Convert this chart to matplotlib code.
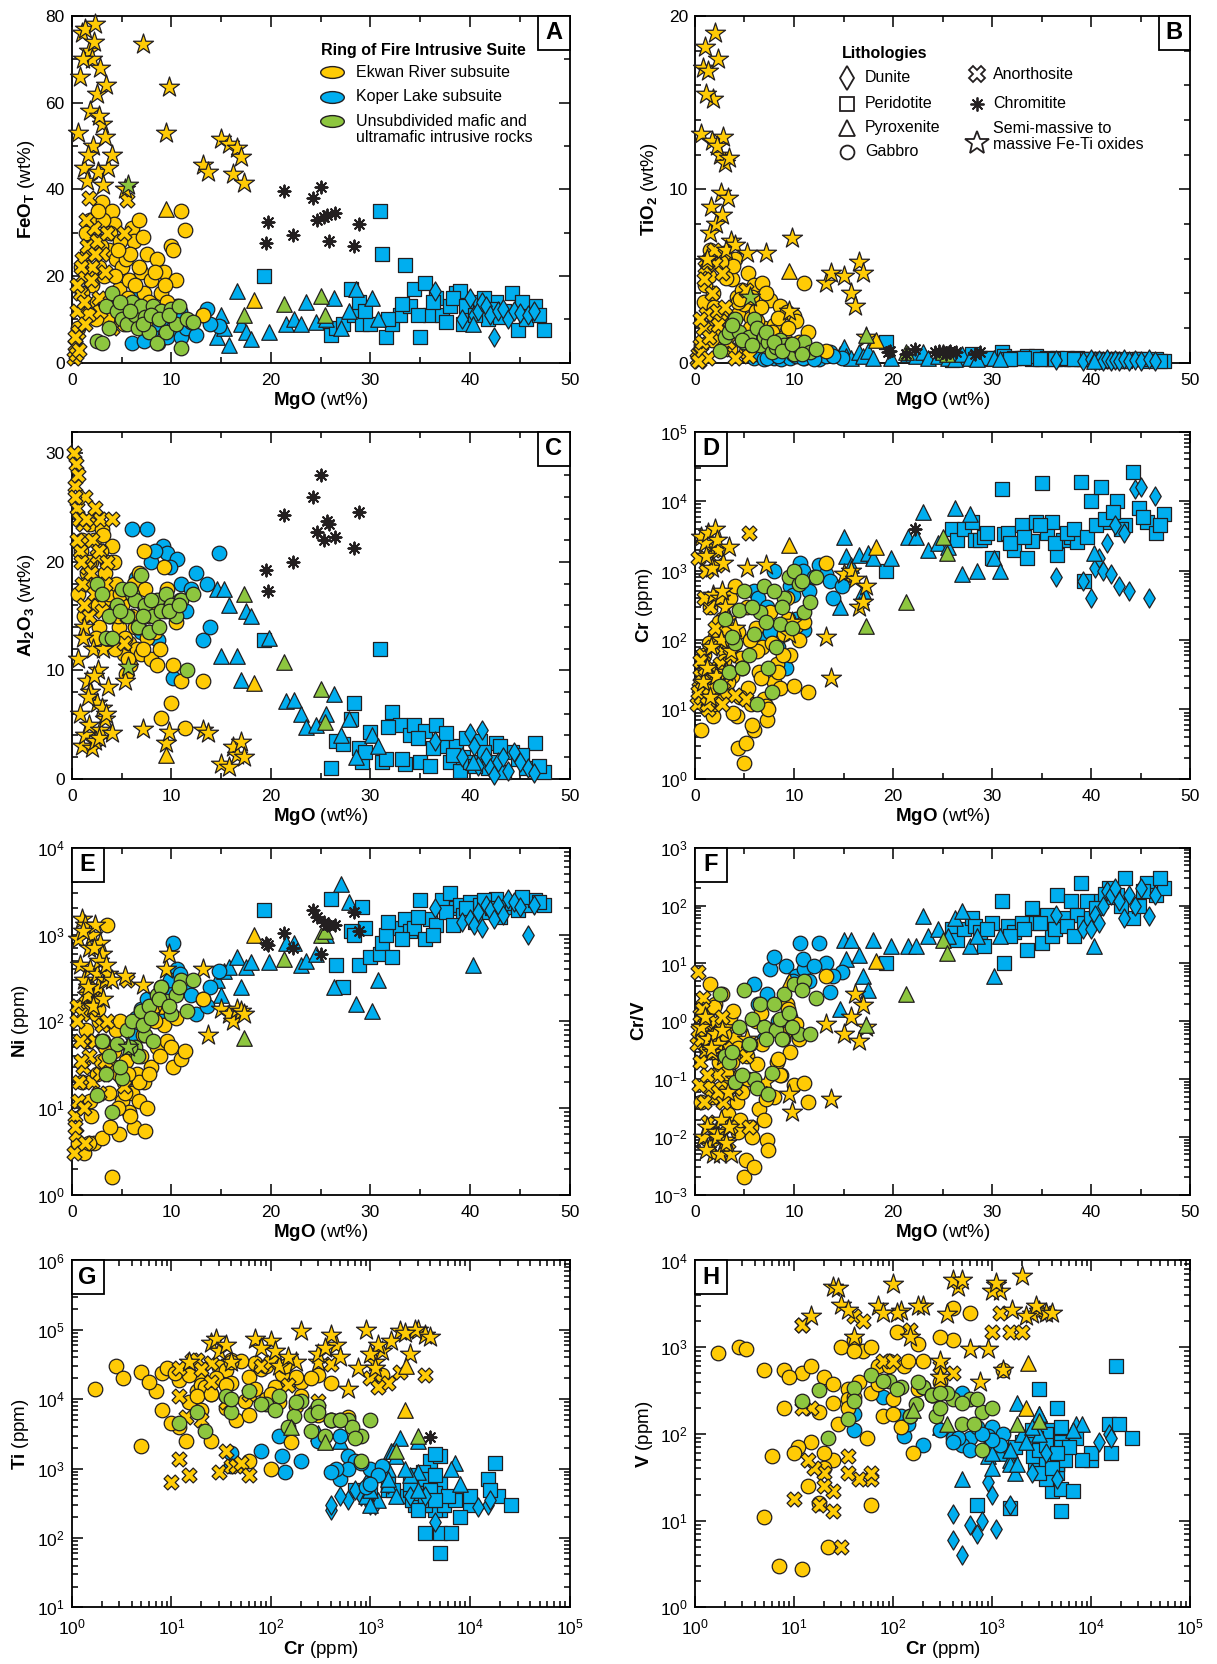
import numpy as np
import matplotlib
matplotlib.use("Agg")
import matplotlib.pyplot as plt
from matplotlib.patches import Rectangle
from matplotlib.path import Path
from matplotlib.transforms import Affine2D
from matplotlib.ticker import MultipleLocator, LogLocator, NullFormatter

plt.rcParams['font.family'] = ['Liberation Sans', 'DejaVu Sans']
plt.rcParams['mathtext.fontset'] = 'custom'
plt.rcParams['mathtext.rm'] = 'Liberation Sans'
plt.rcParams['mathtext.bf'] = 'Liberation Sans:bold'
plt.rcParams['mathtext.it'] = 'Liberation Sans:italic'

NA = np.nan

# Ekwan River subsuite - gabbro
ek_gab_mgo = [0.6, 0.9, 1.2, 1.5, 1.8, 2.0, 2.2, 2.5, 2.7, 3.0,
              3.2, 3.5, 3.7, 4.0, 4.2, 4.4, 4.7, 5.0, 5.2, 5.4,
              5.7, 6.0, 6.2, 6.5, 6.8, 7.0, 7.3, 7.6, 8.0, 8.3,
              8.6, 9.0, 9.3, 9.6, 10.0, 10.2, 10.5, 11.0, 11.4, 13.2,
              1.0, 1.4, 1.9, 2.4, 2.9, 3.3, 3.8, 4.3, 4.8, 5.3,
              5.8, 6.3, 6.7, 7.2, 7.8, 8.4, 8.9, 9.4, 3.1, 4.6,
              5.6, 2.6, 7.4, 1.7]
ek_gab_feo = [8, 22, 12, 25, 33, 18, 28, 14, 22, 37,
              20, 10, 26, 35, 32, 24, 17, 22, 9, 24,
              19, 31, 28, 13, 33, 21, 16, 25, 19, 11,
              24, 16, 21, 14, 27, 26, 19, 35, 30.5, 11,
              16, 30, 21, 10, 27, 14, 30, 20, 28, 12,
              25, 18, 22, 29, 14, 21, 12, 18, 33, 26,
              15, 35, 9, 11]
ek_gab_tio2 = [1.0, 3.5, 2.0, 6.5, 4.0, 2.5, 6.2, 1.5, 3.0, 5.5,
               2.2, 0.8, 4.8, 6.0, 3.8, 2.8, 1.6, 3.4, 0.6, 5.2,
               2.6, 4.5, 3.0, 1.2, 4.6, 2.0, 1.4, 3.6, 2.2, 0.9,
               3.3, 1.5, 2.9, 1.1, 2.7, 2.4, 1.2, 4.6, 1.8, 0.7,
               4.5, 5.0, 3.2, 1.8, 6.3, 2.0, 5.6, 3.5, 4.2, 1.0,
               3.8, 2.4, 3.2, 4.0, 1.8, 2.6, 1.0, 2.0, 4.9, 3.7,
               2.0, 5.8, 0.9, 1.3]
ek_gab_al2o3 = [17, 21, 15, 19, 23.5, 16, 22, 18, 14, 23,
                16.5, 20, 17, 21.5, 20, 18, 14, 16, 11.5, 9.7,
                12.5, 15, 18, 12, 14, 11.5, 21, 13, 11, 16,
                10.5, 5.6, 19.5, 17.5, 7.0, 10.5, 14.5, 9.0, 4.7, 9.0,
                22, 18, 20, 13, 21, 19, 15, 12, 17, 13,
                10.5, 14, 19, 12, 15, 13.5, 12, 15.5, 22.5, 15,
                11, 16, 17.5, 20]
ek_gab_cr = [5, 60, 25, 300, 8, 110, 40, 15, 200, 70,
             18, 400, 30, 600, 8, 2.8, 55, 1.7, 3.3, 20,
             12, 5, 150, 35, 80, 14, 7, 250, 25, 45,
             20, 120, 400, 60, 22, 160, 100, 180, 18, 1300,
             35, 90, 12, 180, 50, 25, 9, 130, 40, 300,
             6, 70, 28, 11, 90, 35, 60, 200, 140, 15,
             100, 40, 10, 20]
ek_gab_ni = [4, 150, 3, 60, 12, 200, 4, 25, 100, 4.5,
             30, 1300, 15, 1.6, 45, 80, 5, 12, 20, 35,
             9, 15, 6, 25, 12, 40, 20, 10, 30, 150,
             50, 250, 90, 60, 50, 30, 110, 37, 45, 180,
             20, 80, 8, 120, 35, 50, 6, 30, 100, 15,
             8, 45, 20, 70, 25, 100, 40, 150, 60, 10,
             25, 140, 5.5, 4]
ek_gab_crv = [0.04, 1.5, 0.3, 4.5, 0.05, 2.0, 0.6, 0.15, 3.0, 0.8,
              0.08, 1.2, 0.2, 0.5, 0.04, 0.012, 0.3, 0.002, 0.004, 0.1,
              0.015, 0.003, 1.0, 0.03, 0.4, 0.02, 0.009, 0.7, 0.05, 0.2,
              0.12, 0.6, 2.0, 0.3, 0.08, 0.9, 0.5, 0.085, 0.04, 6.0,
              0.5, 0.07, 1.8, 0.2, 0.6, 0.025, 1.5, 0.35, 0.06, 0.25,
              0.01, 0.18, 1.4, 0.045, 0.7, 0.22, 0.5, 1.6, 0.13, 0.02,
              0.4, 0.07, 0.006, 0.3]
ek_gab_ti = [2100, 21000, 12000, 22000, 24000, 15000, 37000, 9000, 18000, 33000,
             13000, 5000, 29000, 5500, 7000, 30000, 9500, 14000, 20000, 20000,
             4000, 25000, 18000, 7500, 27000, 2500, 13000, 20000, 2500, 5000,
             16000, 9000, 17000, 1300, 15000, 2400, 1000, 21000, 11000, 22000,
             26000, 30000, 19000, 8000, 36000, 12000, 28000, 23000, 17000, 6000,
             18000, 14000, 20000, 24000, 10000, 16000, 6000, 11000, 30000, 22000,
             12000, 35000, 4500, 7000]
ek_gab_v = [11, 300, 50, 400, 200, 1500, 1200, 80, 700, 600,
            16, 2800, 1000, 2500, 550, 1000, 90, 850, 950, 450,
            2.8, 550, 160, 330, 160, 25, 3, 280, 230, 400,
            60, 120, 1200, 15, 5, 60, 170, 330, 180, 550,
            250, 700, 500, 1100, 900, 380, 450, 600, 270, 1300,
            55, 380, 130, 70, 600, 200, 1000, 350, 700, 600,
            250, 900, 60, 40]

# Ekwan River - tlenki Fe-Ti
ek_ox_mgo = [0.6, 0.8, 1.0, 1.2, 1.3, 1.5, 1.7, 1.8, 2.0, 2.1,
             2.3, 2.5, 2.6, 2.8, 3.0, 3.3, 3.6, 7.2, 9.5, 9.8,
             13.2, 13.7, 15.0, 15.8, 16.2, 16.6, 17.0, 17.3,
             1.1, 1.6, 2.2, 2.7, 3.1, 3.4, 4.0, 5.3]
ek_ox_feo = [53, 66, 76, 45, 77, 42, 72, 58, 70, 50,
             78, 62, 44, 68, 55, 52, 45, 73.5, 53, 63.5,
             45.5, 44, 51.5, 50.5, 43.5, 49.5, 47.5, 41.5,
             70, 48, 74, 57, 41, 64, 48, 40]
ek_ox_tio2 = [13.2, 17.0, 18.2, 6.0, 16.8, 7.5, 12.8, 15.2, 19.0, 8.0,
              17.5, 12.0, 9.8, 13.0, 11.5, 9.5, 7.0, 6.3, 3.0, 7.2,
              4.6, 5.2, 5.0, 4.0, 3.3, 5.8, 5.2, 1.5,
              15.5, 9.0, 12.5, 8.5, 6.5, 11.8, 6.8, 6.3]
ek_ox_al2o3 = [11, 6, 3, 14, 4, 9, 5, 8, 2.8, 12,
               3.5, 7, 10, 4.5, 6.5, 5.5, 8.5, 4.6, 3.3, 4.3,
               4.5, 4.2, 1.4, 1.1, 2.9, 2.2, 3.4, 2.0,
               13, 7.5, 9.5, 3.8, 12, 6, 4.2, 9]
ek_ox_cr = [3000, 25, 2500, 40, 3500, 15, 1100, 450, 4000, 30,
            2000, 400, 100, 1300, 300, 200, 70, 1200, 120, 180,
            110, 28, 900, 1000, 750, 300, 350, 600,
            1600, 80, 2800, 500, 35, 2200, 150, 1100]
ek_ox_ni = [900, 450, 1500, 300, 1300, 200, 700, 400, 1000, 150,
            1300, 350, 250, 800, 600, 300, 350, 260, 400, 600,
            400, 70, 140, 120, 100, 140, 130, 120,
            1100, 250, 700, 500, 180, 450, 300, 330]
ek_ox_crv = [0.8, 0.01, 1.2, 0.015, 0.5, 0.007, 0.3, 0.005, 0.6, 0.012,
             0.4, 0.005, 0.02, 0.25, 0.009, 0.06, 0.005, 0.09, 0.055, 0.027,
             0.9, 0.045, 0.6, 1.2, 3.0, 0.45, 1.9, 0.8,
             0.006, 0.35, 0.01, 0.7, 0.008, 0.015, 0.1, 0.5]
ek_ox_ti = [100000, 65000, 45000, 35000, 85000, 35000, 35000, 60000, 80000, 50000,
            95000, 85000, 70000, 50000, 35000, 95000, 75000, 60000, 30000, 35000,
            50000, 75000, 100000, 45000, 28000, 45000, 55000, 14000,
            70000, 55000, 100000, 40000, 60000, 90000, 40000, 28000]
ek_ox_v = [2600, 5000, 2400, 1300, 2500, 2300, 5200, 5000, 2500, 3100,
           6700, 6000, 5300, 550, 700, 3000, 3000, 4500, 2600, 3000,
           2500, 4800, 950, 4500, 400, 450, 2400, 950,
           2700, 2500, 3000, 6000, 2700, 2300, 1300, 5500]

# Ekwan River - anortozyt
ek_ano_mgo = [0.2, 0.3, 0.4, 0.5, 0.6, 0.8, 1.0, 1.1, 1.3, 1.5,
              1.7, 2.0, 2.2, 2.5, 2.8, 3.0, 3.3, 4.0, 5.2, 5.5,
              0.3, 0.5, 0.7, 0.9, 1.2, 1.4, 1.9, 2.3, 2.7, 3.5]
ek_ano_feo = [1, 4, 2, 12, 7, 16, 24, 20, 9, 27,
              38, 22, 31, 28, 12, 25, 21, 8, 30, 37.5,
              6, 18, 3, 22, 14, 33, 19, 25, 15, 30]
ek_ano_tio2 = [0.2, 0.5, 0.1, 1.0, 0.6, 2.0, 5.5, 2.8, 0.3, 6.0,
               4.0, 5.7, 3.0, 2.4, 0.8, 3.2, 1.2, 0.3, 4.2, 0.4,
               0.1, 2.5, 1.2, 4.8, 5.8, 1.5, 6.5, 2.2, 5.2, 2.0]
ek_ano_al2o3 = [30, 27, 29, 25, 28, 21, 18, 23.5, 26, 19.5,
                15, 22, 17, 20.5, 24, 15.5, 18, 24, 12.5, 15,
                26, 22, 24, 20, 16, 24, 19, 25, 21, 20]
ek_ano_cr = [12, 1500, 20, 30, 15, 60, 40, 1000, 10, 300,
             80, 150, 1200, 45, 25, 100, 35, 16, 14, 3500,
             18, 50, 25, 400, 12, 20, 2000, 35, 12, 60]
ek_ano_ni = [3, 8, 5, 150, 12, 60, 120, 30, 4, 250,
             40, 20, 60, 180, 25, 90, 35, 25, 18, 300,
             6, 100, 20, 35, 10, 200, 140, 60, 15, 100]
ek_ano_crv = [0.4, 7, 0.08, 1.3, 0.5, 2.5, 0.9, 0.3, 0.018, 0.6,
              0.05, 1.0, 0.12, 0.012, 0.04, 0.35, 0.006, 0.07, 0.25, 0.015,
              0.7, 0.2, 1.6, 0.04, 0.12, 0.007, 0.5, 0.06, 1.2, 0.015]
ek_ano_ti = [1400, 17000, 5000, 900, 800, 12000, 1100, 20000, 650, 9500,
             30000, 16000, 15000, 1100, 33000, 35000, 1800, 37000, 5500, 22000,
             37000, 1200, 18000, 32000, 11000, 27000, 25000, 9000, 28000, 800]
ek_ano_v = [1800, 1500, 35, 5, 200, 30, 2300, 1500, 18, 600,
            700, 1600, 2500, 30, 13, 700, 55, 40, 50, 2500,
            15, 2000, 22, 500, 1800, 25, 1500, 35, 200, 35]

# Ekwan River - piroksenit
ek_pyx_mgo = [9.5, 18.3]
ek_pyx_feo = [35.5, 14.5]
ek_pyx_tio2 = [5.3, 1.3]
ek_pyx_al2o3 = [2.2, 8.8]
ek_pyx_cr = [2300, 2200]
ek_pyx_ni = [150, 1000]
ek_pyx_crv = [5, 11]
ek_pyx_ti = [30000, 7000]
ek_pyx_v = [650, 200]

# Koper Lake - gabbro
kl_gab_mgo = [6.0, 6.4, 7.0, 7.6, 8.0, 8.7, 9.2, 9.6, 10.2, 10.6,
              11.0, 11.5, 12.5, 13.2, 13.6, 14.8,
              7.3, 8.4, 9.9, 10.9, 12.0, 13.9]
kl_gab_feo = [4.5, 15, 9, 11, 7, 4.5, 10, 6, 8, 13,
              6, 8, 6.5, 11, 12.5, 8.5,
              5, 9, 11, 12, 9.5, 9]
kl_gab_tio2 = [0.3, 0.5, 0.2, 0.4, 0.3, 0.2, 0.6, 0.3, 0.4, 0.8,
               0.3, 0.5, 0.2, 0.4, 0.6, 0.3,
               0.3, 0.4, 0.5, 0.3, 0.2, 0.4]
kl_gab_al2o3 = [23, 18.5, 13.5, 23, 20, 12.8, 21.5, 20.8, 9.3, 20.3,
                18, 15.5, 19, 12.8, 18, 20.8,
                16, 21, 19.5, 16.5, 17.5, 14]
kl_gab_cr = [500, 400, 120, 130, 1000, 40, 40, 600, 200, 1300,
             140, 500, 1200, 900, 700, 600,
             300, 80, 450, 1000, 800, 400]
kl_gab_ni = [70, 110, 140, 180, 150, 120, 200, 220, 800, 400,
             300, 250, 120, 180, 150, 380,
             100, 160, 300, 350, 200, 250]
kl_gab_crv = [4.5, 2.0, 0.5, 8, 13, 0.12, 9, 1.2, 6, 23,
              8, 5, 23, 10, 3.2, 7,
              3, 1, 5, 12, 9, 6]
kl_gab_ti = [3000, 5000, 3000, 1500, 1000, 1700, 1100, 1500, 1300, 1100,
             900, 700, 800, 550, 1300, 1000,
             2500, 1800, 1000, 600, 1200, 900]
kl_gab_v = [300, 90, 160, 95, 120, 110, 170, 90, 75, 100,
            130, 75, 75, 95, 120, 65,
            110, 270, 90, 85, 100, 80]

# Koper Lake - piroksenit
kl_pyx_mgo = [14.6, 15.0, 15.3, 15.8, 16.6, 17.0, 17.5, 18.0, 19.8, 21.5,
              22.3, 23.0, 23.5, 24.5, 25.5, 26.3, 27.0, 27.8, 28.5, 30.2,
              30.8, 40.3]
kl_pyx_feo = [6, 11, 8, 4, 16.5, 9, 7, 5.5, 7, 9,
              10, 9, 14, 9.5, 10, 15, 8, 12, 17, 15,
              10, 9]
kl_pyx_tio2 = [0.5, 0.9, 0.4, 0.3, 0.6, 0.4, 0.7, 0.3, 0.3, 0.5,
               0.4, 0.6, 0.3, 0.4, 0.3, 0.2, 0.5, 0.3, 0.2, 0.3,
               0.2, 0.1]
kl_pyx_al2o3 = [17.5, 11.3, 17.5, 16, 11.3, 9.1, 15.5, 15, 13, 7.2,
                7.3, 6, 4.8, 5, 6, 7.8, 4, 5.5, 2, 4,
                3, 1.5]
kl_pyx_cr = [300, 3000, 1600, 1200, 1700, 500, 1800, 1500, 1500, 3000,
             3000, 7000, 2000, 2500, 2200, 8000, 900, 6500, 1000, 1500,
             1000, 1800]
kl_pyx_ni = [300, 200, 380, 420, 550, 250, 420, 480, 480, 800,
             800, 450, 500, 600, 1000, 250, 3800, 2400, 160, 130,
             300, 450]
kl_pyx_crv = [1.6, 25, 12, 25, 14, 6, 3.5, 25, 20, 20,
              20, 65, 30, 40, 30, 60, 80, 20, 30, 6,
              30, 20]
kl_pyx_ti = [3300, 2500, 1800, 350, 1800, 2500, 1500, 1000, 600, 500,
             900, 1200, 2800, 800, 1000, 600, 400, 1000, 300, 700,
             500, 400]
kl_pyx_v = [120, 170, 50, 60, 35, 30, 230, 50, 45, 170,
            100, 130, 100, 120, 80, 130, 55, 110, 40, 65,
            60, 45]

# Koper Lake - perydotyt
kl_per_mgo = [19.3, 26.0, 26.5, 27.2, 28.0, 28.3, 28.8, 29.2, 30.0, 31.0,
              31.2, 31.6, 32.2, 33.0, 33.5, 34.0, 34.4, 35.0, 35.5, 36.0,
              36.6, 37.2, 38.0, 38.6, 39.0, 39.3, 40.0, 41.0, 41.8, 42.6,
              43.4, 44.2, 44.8, 45.6, 46.5, 47.4,
              29.5, 31.8, 33.2, 34.8, 36.3, 37.6, 38.3, 39.6, 40.5, 41.4,
              42.2, 43.0, 45.2, 46.9]
kl_per_feo = [20, 6.5, 8, 9, 17, 11, 14, 9, 9, 35,
              25, 6, 9, 11, 22.5, 13, 17, 6, 18.5, 11,
              15, 11, 13, 16, 16.5, 9, 12, 14, 10, 14,
              12, 16, 7.5, 10, 13, 7.5,
              12, 10, 13.5, 11, 14, 9.5, 15, 13, 11, 15,
              12.5, 10.5, 14, 11]
kl_per_tio2 = [1.2, 0.15, 0.2, 0.3, 0.5, 0.2, 0.3, 0.2, 0.3, 0.6,
               0.4, 0.2, 0.3, 0.3, 0.4, 0.2, 0.4, 0.2, 0.3, 0.2,
               0.3, 0.2, 0.2, 0.3, 0.2, 0.2, 0.2, 0.2, 0.1, 0.2,
               0.1, 0.2, 0.2, 0.1, 0.2, 0.1,
               0.3, 0.2, 0.3, 0.2, 0.2, 0.3, 0.2, 0.2, 0.2, 0.1,
               0.2, 0.1, 0.2, 0.1]
kl_per_al2o3 = [12.8, 1.0, 3.5, 3.2, 5.5, 7.0, 2.8, 1.5, 4.3, 12,
                1.5, 1.8, 6.2, 5.0, 1.4, 4.0, 5.0, 1.5, 4.4, 1.2,
                5.0, 3.0, 1.5, 3.0, 0.7, 2.0, 1.5, 3.5, 1.0, 3.3,
                0.6, 2.5, 1.8, 1.0, 3.3, 0.6,
                2.5, 4.8, 1.8, 3.8, 2.8, 4.2, 2.2, 3.8, 1.2, 2.5,
                1.5, 3.0, 2.2, 1.2]
kl_per_cr = [1000, 4000, 2800, 4000, 5000, 2800, 2800, 3000, 1500, 15000,
             3400, 3500, 2000, 4500, 1500, 2700, 5000, 18000, 3500, 5000,
             1700, 2800, 3000, 2600, 19000, 700, 10000, 16000, 5000, 10000,
             4500, 26000, 8000, 5000, 3500, 6500,
             3500, 2500, 3000, 4500, 2500, 3500, 4000, 3000, 4500, 5500,
             7000, 4000, 6000, 4500]
kl_per_ni = [1900, 2600, 450, 250, 1100, 1000, 450, 2100, 550, 600,
             800, 1000, 550, 1200, 1500, 1100, 1200, 2500, 900, 1500,
             1300, 2500, 3000, 2000, 2200, 1700, 2400, 2200, 1800, 2600,
             2100, 2300, 1900, 2200, 2500, 2200,
             1200, 1400, 900, 1600, 1000, 1800, 1300, 2000, 1400, 2500,
             2000, 1600, 2700, 2400]
kl_per_crv = [10, 40, 25, 40, 60, 45, 35, 20, 50, 120,
              10, 45, 35, 50, 17, 90, 50, 23, 70, 30,
              150, 60, 120, 70, 250, 50, 60, 120, 200, 150,
              300, 60, 100, 250, 150, 200,
              40, 30, 40, 50, 40, 45, 30, 120, 90, 160,
              140, 100, 180, 300]
kl_per_ti = [550, 1300, 500, 300, 1500, 700, 400, 800, 500, 700,
             900, 120, 400, 1600, 600, 350, 250, 1200, 450, 120,
             500, 300, 600, 350, 400, 500, 300, 500, 600, 400,
             250, 300, 200, 60, 300, 120,
             700, 500, 450, 800, 600, 400, 350, 250, 450, 300,
             350, 500, 400, 350]
kl_per_v = [60, 22, 50, 110, 80, 100, 80, 330, 14, 130,
            70, 100, 80, 200, 60, 45, 13, 600, 40, 23,
            70, 90, 60, 55, 130, 15, 50, 60, 120, 60,
            35, 90, 50, 70, 30, 22,
            45, 85, 65, 45, 110, 75, 55, 35, 45, 50,
            90, 40, 70, 60]

# Koper Lake - dunit
kl_dun_mgo = [36.5, 39.2, 40.0, 40.4, 40.8, 41.2, 41.6, 42.0, 42.4, 42.8,
              43.3, 43.8, 44.4, 45.0, 45.8, 46.4]
kl_dun_feo = [16.5, 10, 15, 11, 12, 14, 13, 11, 6, 12,
              12.5, 10, 12, 11.5, 11, 12]
kl_dun_tio2 = [0.15, 0.1, 0.2, 0.1, 0.15, 0.1, 0.2, 0.1, 0.15, 0.1,
               0.2, 0.1, 0.15, 0.1, 0.2, 0.1]
kl_dun_al2o3 = [3.5, 2.0, 4.2, 3.0, 1.2, 4.5, 2.0, 1.0, 0.3, 1.5,
                2.0, 0.7, 2.5, 1.5, 1.0, 0.5]
kl_dun_cr = [800, 700, 400, 1100, 1500, 1000, 2500, 900, 4500, 600,
             3500, 500, 15000, 16000, 400, 12000]
kl_dun_ni = [2000, 1400, 1500, 1300, 1800, 1200, 2200, 1900, 1500, 2200,
             1700, 2600, 2400, 2100, 1000, 2200]
kl_dun_crv = [70, 40, 40, 70, 50, 100, 180, 150, 200, 120,
              60, 150, 100, 200, 65, 150]
kl_dun_ti = [400, 500, 250, 300, 600, 300, 400, 600, 170, 350,
             400, 400, 300, 350, 300, 280]
kl_dun_v = [10, 7, 12, 8, 15, 20, 35, 28, 30, 9,
            60, 4, 100, 90, 6, 80]

# Skały niepodzielone - gabbro
un_gab_mgo = [2.5, 3.0, 3.4, 4.0, 4.5, 5.0, 5.5, 6.0, 6.3, 6.6,
              7.0, 7.4, 7.8, 8.2, 8.6, 9.0, 9.5, 10.0, 10.5, 11.0,
              11.6, 12.2,
              3.7, 4.8, 5.8, 7.2, 8.0, 8.8, 9.8, 10.8]
un_gab_feo = [5, 4.5, 13, 16, 12, 10, 9, 14, 11, 8,
              13, 10.5, 7, 13, 4.5, 12, 7, 12.5, 9, 3.5,
              10, 9.5,
              8, 14, 12, 9, 11, 10, 11, 13]
un_gab_tio2 = [0.7, 1.5, 1.8, 2.5, 1.8, 1.2, 1.5, 2.5, 2.0, 1.0,
               1.5, 1.2, 0.6, 0.9, 1.3, 1.0, 0.8, 0.5, 0.9, 1.2,
               0.6, 0.8,
               2.2, 1.3, 1.0, 1.8, 1.2, 0.7, 1.1, 0.5]
un_gab_al2o3 = [18, 17, 13, 13, 16, 17.5, 15, 17, 16.5, 14,
                18.8, 16, 13.5, 15, 16.5, 15.5, 17, 16, 15, 16.5,
                10, 17,
                15, 15.5, 17.5, 15, 16.5, 14, 15.5, 16]
un_gab_cr = [22, 200, 35, 90, 270, 500, 60, 120, 12, 250,
             600, 40, 18, 80, 170, 400, 800, 1000, 650, 250,
             350, 800,
             110, 40, 300, 180, 500, 300, 150, 700]
un_gab_ni = [14, 60, 25, 9, 55, 22, 80, 100, 50, 40,
             130, 70, 150, 60, 200, 250, 170, 120, 200, 300,
             130, 300,
             40, 30, 50, 90, 110, 180, 150, 250]
un_gab_crv = [3, 0.25, 0.2, 0.09, 0.8, 3.5, 0.4, 0.1, 0.07, 2,
              0.8, 0.055, 0.13, 0.7, 1.1, 3, 1.4, 4.5, 0.6, 5,
              0.6, 2.5,
              0.3, 0.12, 1.1, 0.5, 2, 0.5, 0.8, 3.5]
un_gab_ti = [3500, 9500, 11000, 8500, 6500, 5000, 13000, 11000, 4500, 6000,
             5000, 6500, 6500, 8500, 5800, 5000, 3000, 5000, 4000, 3500,
             3000, 1300,
             7000, 10000, 8000, 9000, 5000, 6500, 4000, 2800]
un_gab_v = [90, 350, 150, 410, 160, 130, 480, 350, 240, 280,
            250, 340, 320, 410, 220, 250, 180, 200, 130, 280,
            300, 65,
            330, 240, 300, 400, 230, 200, 160, 250]

# Skały niepodzielone - piroksenit
un_pyx_mgo = [17.3, 21.3, 25.0, 25.4]
un_pyx_feo = [11, 13.5, 15.5, 11]
un_pyx_tio2 = [1.6, 0.6, 0.6, 0.5]
un_pyx_al2o3 = [17, 10.8, 8.3, 5.2]
un_pyx_cr = [160, 350, 3000, 1800]
un_pyx_ni = [65, 520, 1000, 1100]
un_pyx_crv = [0.85, 3, 25, 15]
un_pyx_ti = [4000, 2400, 3000, 1800]
un_pyx_v = [190, 130, 140, 130]

# Skały niepodzielone - tlenki
un_ox_mgo = [5.6]
un_ox_feo = [41]
un_ox_tio2 = [3.8]
un_ox_al2o3 = [10.3]
un_ox_cr = [NA]
un_ox_ni = [50]
un_ox_crv = [NA]
un_ox_ti = [NA]
un_ox_v = [NA]

# Chromityt
chr_mgo = [19.5, 19.7, 21.3, 22.2, 24.2, 24.6, 25.0, 25.3, 25.6, 25.8,
           26.4, 28.3, 28.8]
chr_feo = [27.5, 32.5, 39.5, 29.5, 38, 33, 40.5, 33.5, 34, 28,
           34.5, 27, 32]
chr_tio2 = [0.6, 0.7, 0.5, 0.8, 0.6, 0.7, 0.6, 0.5, 0.6, 0.7,
            0.6, 0.5, 0.6]
chr_al2o3 = [19.3, 17.3, 24.3, 20, 26, 22.8, 28, 22, 23.8, 23.5,
             22.3, 21.3, 24.6]
chr_cr = [NA, NA, NA, 4000, NA, NA, NA, NA, NA, NA,
          NA, NA, NA]
chr_ni = [800, 750, 1050, 700, 1900, 1600, 600, 1400, 1300, 1300,
          1300, 1800, 1100]
chr_crv = [NA, NA, NA, NA, NA, NA, NA, NA, NA, NA,
           NA, NA, NA]
chr_ti = [NA, NA, NA, 2900, NA, NA, NA, NA, NA, NA,
          NA, NA, NA]
chr_v = [NA, NA, NA, NA, NA, NA, NA, NA, NA, NA,
         NA, NA, NA]

YELLOW = '#FFCB05'
BLUE = '#00AEEF'
GREEN = '#8DC63F'
EDGE = '#231F20'

def grp(mgo, feo, tio2, al2o3, cr, ni, crv, ti, v):
    return {'mgo': mgo, 'feo': feo, 'tio2': tio2, 'al2o3': al2o3,
            'cr': cr, 'ni': ni, 'crv': crv, 'ti': ti, 'v': v}

# kolejność rysowania: od spodu do góry
GROUPS = [
    (grp(kl_per_mgo, kl_per_feo, kl_per_tio2, kl_per_al2o3, kl_per_cr, kl_per_ni, kl_per_crv, kl_per_ti, kl_per_v), 's', BLUE, 105),
    (grp(kl_dun_mgo, kl_dun_feo, kl_dun_tio2, kl_dun_al2o3, kl_dun_cr, kl_dun_ni, kl_dun_crv, kl_dun_ti, kl_dun_v), 'd', BLUE, 95),
    (grp(kl_pyx_mgo, kl_pyx_feo, kl_pyx_tio2, kl_pyx_al2o3, kl_pyx_cr, kl_pyx_ni, kl_pyx_crv, kl_pyx_ti, kl_pyx_v), '^', BLUE, 125),
    (grp(kl_gab_mgo, kl_gab_feo, kl_gab_tio2, kl_gab_al2o3, kl_gab_cr, kl_gab_ni, kl_gab_crv, kl_gab_ti, kl_gab_v), 'o', BLUE, 110),
    (grp(ek_gab_mgo, ek_gab_feo, ek_gab_tio2, ek_gab_al2o3, ek_gab_cr, ek_gab_ni, ek_gab_crv, ek_gab_ti, ek_gab_v), 'o', YELLOW, 110),
    (grp(ek_ano_mgo, ek_ano_feo, ek_ano_tio2, ek_ano_al2o3, ek_ano_cr, ek_ano_ni, ek_ano_crv, ek_ano_ti, ek_ano_v), 'X', YELLOW, 115),
    (grp(ek_ox_mgo, ek_ox_feo, ek_ox_tio2, ek_ox_al2o3, ek_ox_cr, ek_ox_ni, ek_ox_crv, ek_ox_ti, ek_ox_v), '*', YELLOW, 230),
    (grp(ek_pyx_mgo, ek_pyx_feo, ek_pyx_tio2, ek_pyx_al2o3, ek_pyx_cr, ek_pyx_ni, ek_pyx_crv, ek_pyx_ti, ek_pyx_v), '^', YELLOW, 125),
    (grp(un_gab_mgo, un_gab_feo, un_gab_tio2, un_gab_al2o3, un_gab_cr, un_gab_ni, un_gab_crv, un_gab_ti, un_gab_v), 'o', GREEN, 110),
    (grp(un_pyx_mgo, un_pyx_feo, un_pyx_tio2, un_pyx_al2o3, un_pyx_cr, un_pyx_ni, un_pyx_crv, un_pyx_ti, un_pyx_v), '^', GREEN, 125),
    (grp(un_ox_mgo, un_ox_feo, un_ox_tio2, un_ox_al2o3, un_ox_cr, un_ox_ni, un_ox_crv, un_ox_ti, un_ox_v), '*', GREEN, 230),
    (grp(chr_mgo, chr_feo, chr_tio2, chr_al2o3, chr_cr, chr_ni, chr_crv, chr_ti, chr_v), 'ast', EDGE, 75),
]

def draw_points(ax, xk, yk):
    for z, (g, mk, col, size) in enumerate(GROUPS):
        x = np.array(g[xk], dtype=float)
        y = np.array(g[yk], dtype=float)
        ok = ~(np.isnan(x) | np.isnan(y))
        if mk == 'ast':
            ax.scatter(x[ok], y[ok], marker=(8, 2, 0), s=size, c=col,
                       linewidths=1.4, zorder=3 + z, clip_on=False)
        else:
            ax.scatter(x[ok], y[ok], marker=mk, s=size, c=col, edgecolors=EDGE,
                       linewidths=0.9, zorder=3 + z, clip_on=False)

def style_axes(ax, xlog=False, ylog=False):
    for s in ax.spines.values():
        s.set_linewidth(1.3)
    ax.tick_params(which='both', direction='in', top=True, right=True,
                   labelsize=12.5, width=1.1, pad=5)
    ax.tick_params(axis='x', which='both', pad=7.5)
    ax.tick_params(which='major', length=8)
    ax.tick_params(which='minor', length=4)
    if xlog:
        ax.set_xscale('log')
        ax.xaxis.set_major_locator(LogLocator(base=10, numticks=20))
        ax.xaxis.set_minor_locator(LogLocator(base=10, subs=np.arange(2, 10), numticks=100))
        ax.xaxis.set_minor_formatter(NullFormatter())
    if ylog:
        ax.set_yscale('log')
        ax.yaxis.set_major_locator(LogLocator(base=10, numticks=20))
        ax.yaxis.set_minor_locator(LogLocator(base=10, subs=np.arange(2, 10), numticks=100))
        ax.yaxis.set_minor_formatter(NullFormatter())

def panel_label(ax, letter, right):
    w, h = 0.064, 0.098
    x0 = 1 - w if right else 0
    ax.add_patch(Rectangle((x0, 1 - h), w, h, transform=ax.transAxes, fc='white',
                           ec='black', lw=1.3, zorder=30, clip_on=False))
    ax.text(x0 + w / 2, 1 - h / 2, letter, transform=ax.transAxes, ha='center',
            va='center', fontsize=17, fontweight='bold', zorder=31)

def mgo_axis(ax):
    ax.set_xlim(0, 50)
    ax.xaxis.set_major_locator(MultipleLocator(10))
    ax.xaxis.set_minor_locator(MultipleLocator(5))
    ax.set_xlabel(r'$\mathbf{MgO}$ (wt%)', fontsize=13.5, labelpad=1)

def cr_axis(ax):
    ax.set_xlim(1, 1e5)
    ax.set_xlabel(r'$\mathbf{Cr}$ (ppm)', fontsize=13.5, labelpad=1)


fig = plt.figure(figsize=(12.17, 16.64), dpi=100)
LX, RX, W_L, W_R, H = 0.059, 0.571, 0.409, 0.407, 0.2085
rows = [0.782, 0.532, 0.282, 0.034]

# A
ax = fig.add_axes([LX, rows[0], W_L, H])
style_axes(ax)
draw_points(ax, 'mgo', 'feo')
mgo_axis(ax)
ax.set_ylim(0, 80)
ax.yaxis.set_major_locator(MultipleLocator(20))
ax.yaxis.set_minor_locator(MultipleLocator(10))
ax.set_ylabel(r'$\mathbf{FeO_T}$ (wt%)', fontsize=13.5, labelpad=6)
panel_label(ax, 'A', True)
ell = Path.unit_circle().transformed(Affine2D().scale(1.0, 0.5))
ax.text(0.501, 0.901, 'Ring of Fire Intrusive Suite', transform=ax.transAxes,
        fontsize=11.5, fontweight='bold', va='center', ha='left', zorder=20)
for fy, col, lab in [(0.837, YELLOW, 'Ekwan River subsuite'),
                     (0.767, BLUE, 'Koper Lake subsuite'),
                     (0.672, GREEN, 'Unsubdivided mafic and\nultramafic intrusive rocks')]:
    ax.plot([0.523], [fy + (0.025 if '\n' in lab else 0)], marker=ell, ms=17,
            mfc=col, mec=EDGE, mew=1.0, transform=ax.transAxes, zorder=20, clip_on=False)
    ax.text(0.570, fy, lab, transform=ax.transAxes, fontsize=11.5, va='center',
            ha='left', linespacing=1.05, zorder=20)

# B
ax = fig.add_axes([RX, rows[0], W_R, H])
style_axes(ax)
draw_points(ax, 'mgo', 'tio2')
mgo_axis(ax)
ax.set_ylim(0, 20)
ax.yaxis.set_major_locator(MultipleLocator(10))
ax.yaxis.set_minor_locator(MultipleLocator(2))
ax.set_ylabel(r'$\mathbf{TiO_2}$ (wt%)', fontsize=13.5, labelpad=6)
panel_label(ax, 'B', True)
ax.text(0.296, 0.890, 'Lithologies', transform=ax.transAxes, fontsize=11.5,
        fontweight='bold', va='center', ha='left', zorder=20)
legend_b = [
    (0.308, 0.343, 0.822, 'd', 12, 'white', 'Dunite'),
    (0.308, 0.343, 0.746, 's', 10, 'white', 'Peridotite'),
    (0.308, 0.343, 0.678, '^', 11, 'white', 'Pyroxenite'),
    (0.308, 0.343, 0.608, 'o', 10, 'white', 'Gabbro'),
    (0.569, 0.602, 0.832, 'X', 11, 'white', 'Anorthosite'),
    (0.569, 0.602, 0.746, (8, 2, 0), 10, EDGE, 'Chromitite'),
    (0.569, 0.602, 0.652, '*', 18, 'white', 'Semi-massive to\nmassive Fe-Ti oxides'),
]
for mx, tx, fy, mk, ms, fc, lab in legend_b:
    my = fy - 0.02 if '\n' in lab else fy
    ax.plot([mx], [my], marker=mk, ms=ms, mfc=fc, mec=EDGE, mew=1.3,
            transform=ax.transAxes, zorder=20, clip_on=False, ls='none')
    ax.text(tx, fy, lab, transform=ax.transAxes, fontsize=11.5, va='center',
            ha='left', linespacing=1.05, zorder=20)

# C
ax = fig.add_axes([LX, rows[1], W_L, H])
style_axes(ax)
draw_points(ax, 'mgo', 'al2o3')
mgo_axis(ax)
ax.set_ylim(0, 32)
ax.yaxis.set_major_locator(MultipleLocator(10))
ax.yaxis.set_minor_locator(MultipleLocator(2))
ax.set_ylabel(r'$\mathbf{Al_2O_3}$ (wt%)', fontsize=13.5, labelpad=6)
panel_label(ax, 'C', True)

# D
ax = fig.add_axes([RX, rows[1], W_R, H])
style_axes(ax, ylog=True)
draw_points(ax, 'mgo', 'cr')
mgo_axis(ax)
ax.set_ylim(1, 1e5)
ax.set_ylabel(r'$\mathbf{Cr}$ (ppm)', fontsize=13.5, labelpad=4)
panel_label(ax, 'D', False)

# E
ax = fig.add_axes([LX, rows[2], W_L, H])
style_axes(ax, ylog=True)
draw_points(ax, 'mgo', 'ni')
mgo_axis(ax)
ax.set_ylim(1, 1e4)
ax.set_ylabel(r'$\mathbf{Ni}$ (ppm)', fontsize=13.5, labelpad=4)
panel_label(ax, 'E', False)

# F
ax = fig.add_axes([RX, rows[2], W_R, H])
style_axes(ax, ylog=True)
draw_points(ax, 'mgo', 'crv')
mgo_axis(ax)
ax.set_ylim(1e-3, 1e3)
ax.set_ylabel(r'$\mathbf{Cr/V}$', fontsize=13.5, labelpad=4)
panel_label(ax, 'F', False)

# G
ax = fig.add_axes([LX, rows[3], W_L, H])
style_axes(ax, xlog=True, ylog=True)
draw_points(ax, 'cr', 'ti')
cr_axis(ax)
ax.set_ylim(10, 1e6)
ax.set_ylabel(r'$\mathbf{Ti}$ (ppm)', fontsize=13.5, labelpad=4)
panel_label(ax, 'G', False)

# H
ax = fig.add_axes([RX, rows[3], W_R, H])
style_axes(ax, xlog=True, ylog=True)
draw_points(ax, 'cr', 'v')
cr_axis(ax)
ax.set_ylim(1, 1e4)
ax.set_ylabel(r'$\mathbf{V}$ (ppm)', fontsize=13.5, labelpad=4)
panel_label(ax, 'H', False)

fig.savefig('out.png', dpi=100)
